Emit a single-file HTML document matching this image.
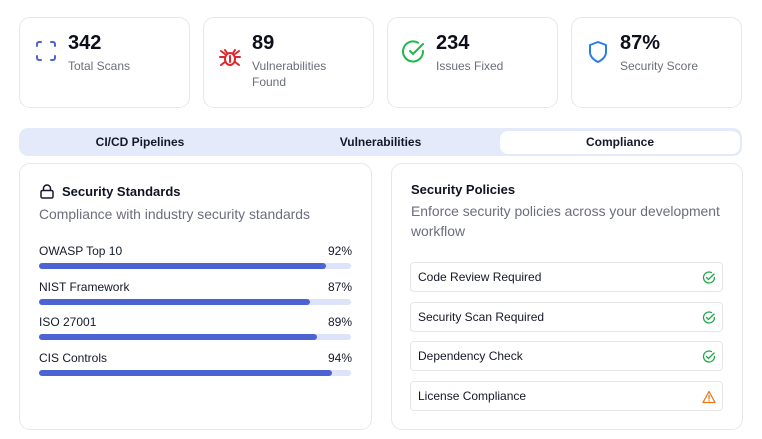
<!DOCTYPE html>
<html><head><meta charset="utf-8"><style>
*{box-sizing:border-box;margin:0;padding:0}
body{width:762px;height:439px;background:#fff;font-family:"Liberation Sans",sans-serif;position:relative;overflow:hidden;color:#0f1222}
.card{position:absolute;top:17px;height:91px;width:171px;border:1px solid #e8e8ec;border-radius:11px;background:#fff}
.card .num{position:absolute;left:48px;top:14px;font-size:20px;font-weight:bold;color:#0d0f1c}
.card .lbl{position:absolute;left:48px;top:40px;font-size:12px;color:#6b6e7b;line-height:16px;width:110px}
.card svg{position:absolute;left:14px;top:22px}
.tabs{position:absolute;left:19px;top:128px;width:723px;height:28px;background:#e5eafb;border-radius:9px}
.tab{position:absolute;top:3px;height:23px;line-height:23px;text-align:center;font-size:12px;color:#15182a;font-weight:bold;-webkit-text-stroke:0}
.panel{position:absolute;top:163px;height:267px;border:1px solid #e8e8ec;border-radius:11px;background:#fff}
.row-l{position:absolute;left:19px;font-size:12px;color:#15182a}
.row-v{position:absolute;right:19px;font-size:12px;color:#15182a}
.track{position:absolute;left:19px;width:312px;height:6px;border-radius:3px;background:#dde3f8}
.fill{position:absolute;left:0;top:0;height:6px;border-radius:3px;background:#4c63d4}
.pol{position:absolute;left:18px;width:313px;height:30px;border:1px solid #e6e6ea;border-radius:4px;font-size:12px;line-height:28px;padding-left:7px;color:#15182a}
.pol svg{position:absolute;right:6px;top:8px}
</style></head><body>
<div class="card" style="left:19px">
<svg width="22" height="22" viewBox="0 0 22 22" style="top:22px;left:15px"><path d="M2 6V4a2 2 0 0 1 2-2h2M16 2h2a2 2 0 0 1 2 2v2M20 16v2a2 2 0 0 1-2 2h-2M6 20H4a2 2 0 0 1-2-2v-2" fill="none" stroke="#4c63d4" stroke-width="2" stroke-linecap="round"/></svg>
<div class="num">342</div><div class="lbl">Total Scans</div></div>
<div class="card" style="left:203px">
<svg width="24" height="24" viewBox="0 0 24 24" style="top:27px"><g fill="none" stroke="#e0262b" stroke-width="2" stroke-linecap="round"><ellipse cx="12" cy="14" rx="5" ry="6"/><path d="M9 8l-2-3M15 8l2-3M7 12H2M17 12h5M7 17l-4 3M17 17l4 3M7 9L3 6M17 9l4-3M12 11v6"/></g></svg>
<div class="num">89</div><div class="lbl">Vulnerabilities<br>Found</div></div>
<div class="card" style="left:387px">
<svg width="24" height="24" viewBox="0 0 24 24"><path d="M21 11a10 10 0 1 1-5-8.2M8 11l3 3 10-10" fill="none" stroke="#1fb84a" stroke-width="2" stroke-linecap="round"/></svg>
<div class="num">234</div><div class="lbl">Issues Fixed</div></div>
<div class="card" style="left:571px">
<svg width="22" height="24" viewBox="0 0 22 24" style="left:15px;top:22px"><path d="M11 2l8 3v7c0 5-4 8-8 10-4-2-8-5-8-10V5z" fill="none" stroke="#2a7de8" stroke-width="2" stroke-linejoin="round"/></svg>
<div class="num">87%</div><div class="lbl">Security Score</div></div>

<div class="tabs">
<div class="tab" style="left:0;width:242px">CI/CD Pipelines</div>
<div class="tab" style="left:242px;width:239px">Vulnerabilities</div>
<div class="tab" style="left:481px;width:240px;background:#fff;border-radius:8px">Compliance</div>
</div>

<div class="panel" style="left:19px;width:353px">
<svg width="14" height="15" viewBox="0 0 14 15" style="position:absolute;left:20px;top:20px"><rect x="1" y="6.5" width="12" height="7.5" rx="1.5" fill="none" stroke="#15182a" stroke-width="1.5"/><path d="M3.5 6.5V4.5a3.5 3.5 0 0 1 7 0v2" fill="none" stroke="#15182a" stroke-width="1.5"/></svg>
<div style="position:absolute;left:42px;top:20px;font-size:13px;font-weight:bold">Security Standards</div>
<div style="position:absolute;left:19px;top:42px;font-size:13.9px;color:#6b6e7b">Compliance with industry security standards</div>
<div id="rows"></div>
</div>

<div class="panel" style="left:391px;width:352px">
<div style="position:absolute;left:19px;top:18px;font-size:13px;font-weight:bold">Security Policies</div>
<div style="position:absolute;left:19px;top:37px;width:325px;font-size:13.9px;line-height:20px;color:#6b6e7b">Enforce security policies across your development workflow</div>
<div class="pol" style="top:98px">Code Review Required<svg width="14" height="14" viewBox="0 0 14 14"><path d="M12.5 6.5a5.5 5.5 0 1 1-3-4.9M4.5 6.5l2 2 5.5-5.5" fill="none" stroke="#1fa848" stroke-width="1.3" stroke-linecap="round"/></svg></div>
<div class="pol" style="top:138px">Security Scan Required<svg width="14" height="14" viewBox="0 0 14 14"><path d="M12.5 6.5a5.5 5.5 0 1 1-3-4.9M4.5 6.5l2 2 5.5-5.5" fill="none" stroke="#1fa848" stroke-width="1.3" stroke-linecap="round"/></svg></div>
<div class="pol" style="top:177px">Dependency Check<svg width="14" height="14" viewBox="0 0 14 14"><path d="M12.5 6.5a5.5 5.5 0 1 1-3-4.9M4.5 6.5l2 2 5.5-5.5" fill="none" stroke="#1fa848" stroke-width="1.3" stroke-linecap="round"/></svg></div>
<div class="pol" style="top:217px">License Compliance<svg width="14" height="14" viewBox="0 0 14 14"><path d="M7 1.5L13 12.5H1z M7 5.5v3.5M7 10.6v.3" fill="none" stroke="#e8771a" stroke-width="1.3" stroke-linejoin="round" stroke-linecap="round"/></svg></div>
</div>

<script>
const standards = ["OWASP Top 10","NIST Framework","ISO 27001","CIS Controls"];
const scores = [92,87,89,94];
const rows = document.getElementById('rows');
const trackW = 312;
function xScale(v){return v/100*trackW;}
standards.forEach((s,i)=>{
  const top = 80 + i*35.5;
  const l = document.createElement('div');
  l.className='row-l'; l.style.top=top+'px'; l.textContent=s;
  
  
  const v = document.createElement('div');
  v.className='row-v'; v.style.top=top+'px'; v.textContent=scores[i]+'%';
  
  
  const t = document.createElement('div');
  t.className='track'; t.style.top=(top+19)+'px';
  
  
  const f = document.createElement('div');
  f.className='fill'; f.style.width=xScale(scores[i])+'px';
  
  
  t.appendChild(f);
  rows.appendChild(l); rows.appendChild(v); rows.appendChild(t);
});
</script>
</body></html>
